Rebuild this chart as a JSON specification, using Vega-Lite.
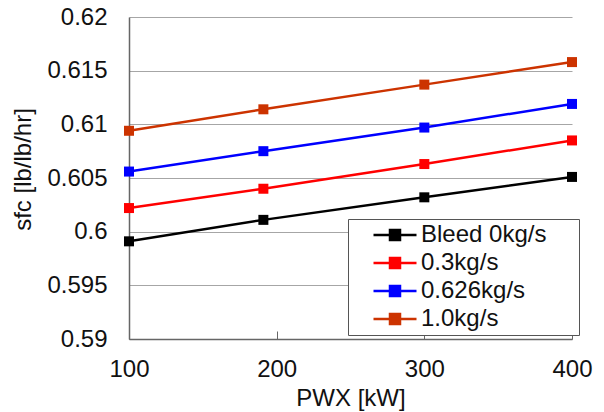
{
  "$schema": "https://vega.github.io/schema/vega-lite/v6.json",
  "width": 443,
  "height": 322,
  "autosize": {"type": "none"},
  "padding": {"left": 129, "top": 17, "right": 32, "bottom": 73},
  "background": "white",
  "config": {
    "view": {"stroke": null},
    "font": "Liberation Sans",
    "axis": {"labelFont": "Liberation Sans", "titleFont": "Liberation Sans", "labelColor": "#111", "titleColor": "#111", "labelFontSize": 24, "titleFontSize": 24, "titleFontWeight": "normal", "domainColor": "#666", "domainWidth": 1.5, "gridColor": "#a6a6a6", "gridWidth": 1, "tickColor": "#666"}
  },
  "data": {
    "values": [
      {"pwx": 100, "sfc": 0.5991, "s": "Bleed 0kg/s"},
      {"pwx": 191, "sfc": 0.6011, "s": "Bleed 0kg/s"},
      {"pwx": 300, "sfc": 0.6032, "s": "Bleed 0kg/s"},
      {"pwx": 400, "sfc": 0.6051, "s": "Bleed 0kg/s"},
      {"pwx": 100, "sfc": 0.6022, "s": "0.3kg/s"},
      {"pwx": 191, "sfc": 0.6040, "s": "0.3kg/s"},
      {"pwx": 300, "sfc": 0.6063, "s": "0.3kg/s"},
      {"pwx": 400, "sfc": 0.6085, "s": "0.3kg/s"},
      {"pwx": 100, "sfc": 0.6056, "s": "0.626kg/s"},
      {"pwx": 191, "sfc": 0.6075, "s": "0.626kg/s"},
      {"pwx": 300, "sfc": 0.6097, "s": "0.626kg/s"},
      {"pwx": 400, "sfc": 0.6119, "s": "0.626kg/s"},
      {"pwx": 100, "sfc": 0.6094, "s": "1.0kg/s"},
      {"pwx": 191, "sfc": 0.6114, "s": "1.0kg/s"},
      {"pwx": 300, "sfc": 0.6137, "s": "1.0kg/s"},
      {"pwx": 400, "sfc": 0.6158, "s": "1.0kg/s"}
    ]
  },
  "encoding": {
    "x": {"field": "pwx", "type": "quantitative", "title": "PWX [kW]",
      "scale": {"domain": [100, 400], "nice": false, "zero": false},
      "axis": {"values": [100, 200, 300, 400], "grid": false, "tickSize": -8, "labelPadding": 26, "titlePadding": 5, "labelFlush": false}},
    "y": {"field": "sfc", "type": "quantitative", "title": "sfc [lb/lb/hr]",
      "scale": {"domain": [0.59, 0.62], "nice": false, "zero": false},
      "axis": {"values": [0.59, 0.595, 0.6, 0.605, 0.61, 0.615, 0.62], "format": ".3~f", "grid": true, "ticks": false, "labelPadding": 22, "titlePadding": 11, "titleY": 152}},
    "color": {"field": "s", "type": "nominal",
      "scale": {"domain": ["Bleed 0kg/s", "0.3kg/s", "0.626kg/s", "1.0kg/s"], "range": ["#000000", "#ff0000", "#0000ff", "#cc3300"]},
      "legend": {"title": null, "orient": "none", "legendX": 219, "legendY": 202,
        "strokeColor": "#555", "fillColor": "white", "padding": 4,
        "symbolType": "M-2.15,0H2.15M-0.5,-0.5H0.5V0.5H-0.5ZM17.45,0", "symbolSize": 400, "symbolStrokeWidth": 2.5, "symbolOffset": 31,
        "labelFontSize": 24, "labelFont": "Liberation Sans", "labelColor": "#111", "labelOffset": 14, "rowPadding": 4,
        "encode": {"symbols": {"update": {"fill": {"scale": "color", "field": "value"}, "opacity": {"value": 1}}}}}}
  },
  "layer": [
    {"mark": {"type": "line", "strokeWidth": 2.5}},
    {"mark": {"type": "point", "shape": "square", "size": 100, "filled": true, "opacity": 1}}
  ]
}
